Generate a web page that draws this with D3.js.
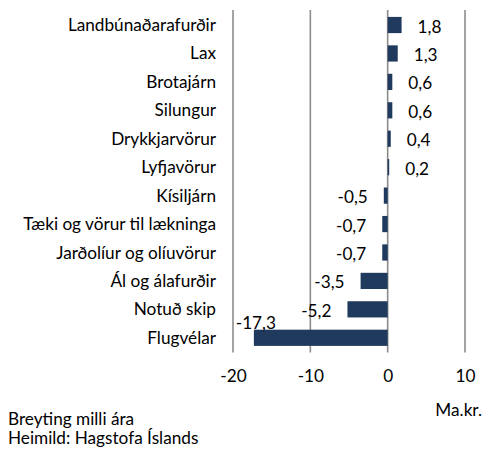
<!DOCTYPE html>
<html><head><meta charset="utf-8">
<script src="https://cdn.jsdelivr.net/npm/d3@7"></script>
<style>body{margin:0;background:#fff}svg{display:block}text{font-family:Lato,"Open Sans",sans-serif;fill:#000}</style>
</head><body><svg id="c" width="496" height="450"></svg>
<script>
const categories = ["Landbúnaðarafurðir","Lax","Brotajárn","Silungur","Drykkjarvörur","Lyfjavörur","Kísiljárn","Tæki og vörur til lækninga","Jarðolíur og olíuvörur","Ál og álafurðir","Notuð skip","Flugvélar"];
const values = [1.8,1.3,0.6,0.6,0.4,0.2,-0.5,-0.7,-0.7,-3.5,-5.2,-17.3];
const tickValues = [-20,-10,0,10];
const unitLabel = "Ma.kr.";
const notes = ["Breyting milli ára","Heimild: Hagstofa Íslands"];

const svg = d3.select("#c");
const x = d3.scaleLinear().domain([-20,10]).range([233,465]);
const y = d3.scaleBand().domain(categories).range([10.8,352]).paddingInner(0.43).paddingOuter(0.215);
const fmt = v => d3.format(".1f")(v).replace(".", ",").replace("−","-");
const fs = 17.2;

// gridlines
svg.append("g").selectAll("line").data(tickValues).join("line")
  .attr("x1",d=>x(d)).attr("x2",d=>x(d)).attr("y1",10).attr("y2",352.5)
  .attr("stroke","#8c8c8c").attr("stroke-width",1.6);

// bars
svg.append("g").selectAll("rect").data(values).join("rect")
  .attr("x",d=>x(Math.min(0,d))).attr("width",d=>Math.abs(x(d)-x(0)))
  .attr("y",(d,i)=>y(categories[i])).attr("height",y.bandwidth())
  .attr("fill","#1f3a5c");

// value labels
svg.append("g").selectAll("text").data(values).join("text")
  .attr("x",(d,i)=> d<-10 ? x(d)+2 : (d>=0 ? x(d)+16 : x(d)-16))
  .attr("y",(d,i)=> d<-10 ? y(categories[i])-7 : y(categories[i])+y.bandwidth()/2+1.5)
  .attr("dy","0.35em")
  .attr("text-anchor",d=> d<-10 ? "middle" : (d>=0?"start":"end"))
  .attr("font-size",fs)
  .text(d=>fmt(d));

// category labels
svg.append("g").selectAll("text").data(categories).join("text")
  .attr("x",216).attr("y",d=>y(d)+y.bandwidth()/2).attr("dy","0.35em")
  .attr("text-anchor","end").attr("font-size",fs).text(d=>d);

// x axis labels
const ax = d3.axisBottom(x).tickValues(tickValues).tickSize(0).tickPadding(0).tickFormat(d=>d3.format("d")(d).replace("−","-"));
const g = svg.append("g").attr("transform","translate(0,370)").call(ax);
g.select(".domain").remove();
g.selectAll("text").attr("font-size",fs).style("font-family","Lato,sans-serif").attr("fill","#000");

svg.append("text").attr("x",482).attr("y",416).attr("text-anchor","end").attr("font-size",fs).text(unitLabel);
svg.selectAll(".note").data(notes).join("text").attr("class","note")
  .attr("x",8).attr("y",(d,i)=>425+i*19).attr("font-size",fs).text(d=>d);
</script></body></html>
